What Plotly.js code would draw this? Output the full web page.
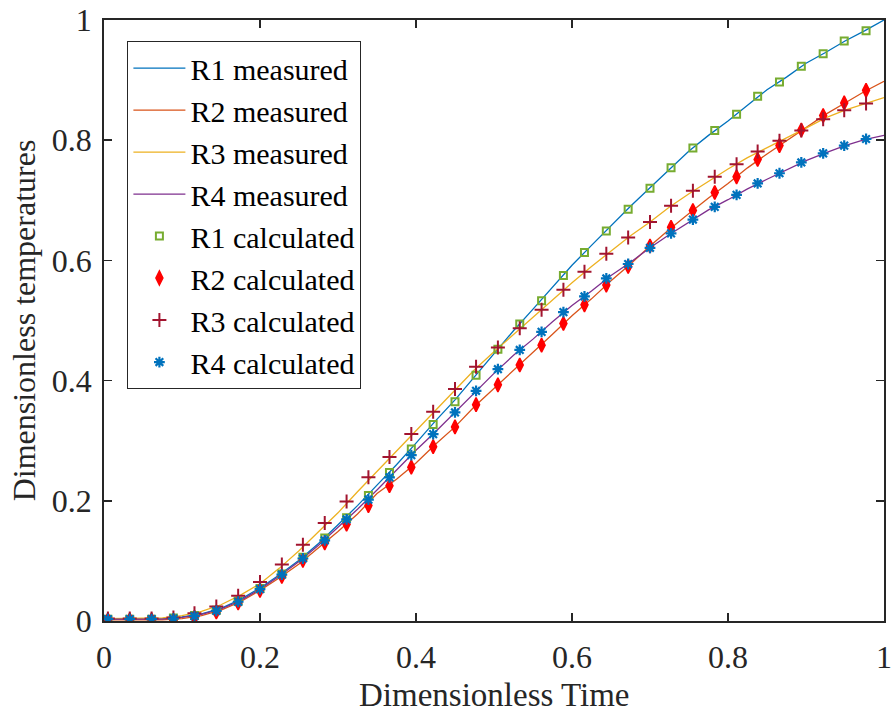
<!DOCTYPE html>
<html>
<head>
<meta charset="utf-8">
<script src="https://cdn.plot.ly/plotly-3.0.1.min.js"></script>
<style>html,body{margin:0;padding:0;background:#fff;}#chart{width:893px;height:718px;}</style>
</head>
<body>
<div id="chart"></div>
<script>
// measured series (dense sampling)
var timeMeasured = [0,0.025,0.05,0.075,0.1,0.125,0.15,0.175,0.2,0.225,0.25,0.275,0.3,0.325,0.35,0.375,0.4,0.425,0.45,0.475,0.5,0.525,0.55,0.575,0.6,0.625,0.65,0.675,0.7,0.725,0.75,0.775,0.8,0.825,0.85,0.875,0.9,0.925,0.95,0.975,1];
var r1Measured = [0.003,0.003,0.003,0.004,0.007,0.012,0.021,0.036,0.055,0.077,0.101,0.129,0.160,0.192,0.226,0.260,0.296,0.333,0.368,0.406,0.445,0.483,0.519,0.556,0.592,0.625,0.658,0.690,0.721,0.752,0.782,0.808,0.832,0.858,0.884,0.905,0.928,0.946,0.965,0.982,1.000];
var r2Measured = [0.002,0.002,0.002,0.002,0.004,0.009,0.018,0.032,0.051,0.072,0.095,0.122,0.149,0.178,0.212,0.236,0.263,0.294,0.323,0.357,0.387,0.416,0.446,0.477,0.508,0.536,0.566,0.594,0.624,0.652,0.678,0.704,0.728,0.754,0.777,0.799,0.822,0.843,0.862,0.881,0.898];
var r3Measured = [0.004,0.004,0.004,0.005,0.009,0.016,0.027,0.043,0.062,0.088,0.117,0.148,0.180,0.215,0.249,0.282,0.316,0.351,0.385,0.418,0.448,0.477,0.506,0.535,0.563,0.590,0.616,0.641,0.664,0.689,0.711,0.732,0.752,0.771,0.788,0.804,0.820,0.837,0.850,0.860,0.871];
var r4Measured = [0.003,0.003,0.003,0.003,0.006,0.011,0.020,0.034,0.053,0.075,0.099,0.126,0.156,0.186,0.218,0.251,0.284,0.315,0.347,0.380,0.412,0.442,0.469,0.498,0.525,0.549,0.575,0.597,0.621,0.643,0.664,0.684,0.701,0.719,0.735,0.751,0.766,0.779,0.791,0.801,0.808];

// calculated series
var timeCalc = [0.005,0.033,0.061,0.089,0.116,0.144,0.172,0.200,0.228,0.255,0.283,0.311,0.339,0.366,0.394,0.422,0.450,0.477,0.505,0.533,0.561,0.589,0.616,0.644,0.672,0.700,0.727,0.755,0.783,0.811,0.838,0.866,0.894,0.922,0.949,0.977];
var r1Calc = [0.003,0.003,0.003,0.005,0.009,0.018,0.033,0.054,0.078,0.106,0.138,0.172,0.209,0.247,0.286,0.327,0.365,0.409,0.452,0.494,0.533,0.575,0.613,0.649,0.685,0.720,0.754,0.787,0.816,0.843,0.873,0.897,0.923,0.944,0.965,0.982];
var r2Calc = [0.002,0.002,0.002,0.000,0.006,0.015,0.030,0.051,0.074,0.101,0.130,0.161,0.192,0.225,0.256,0.290,0.323,0.360,0.393,0.426,0.459,0.495,0.526,0.559,0.590,0.624,0.655,0.683,0.713,0.739,0.768,0.791,0.817,0.841,0.862,0.883];
var r3Calc = [0.004,0.004,0.004,0.006,0.013,0.024,0.042,0.065,0.094,0.127,0.163,0.199,0.239,0.273,0.311,0.348,0.386,0.423,0.455,0.487,0.518,0.551,0.581,0.611,0.638,0.664,0.691,0.716,0.739,0.760,0.781,0.799,0.816,0.835,0.850,0.861];
var r4Calc = [0.003,0.003,0.003,0.004,0.008,0.017,0.032,0.053,0.077,0.104,0.134,0.169,0.202,0.239,0.276,0.311,0.347,0.383,0.419,0.451,0.481,0.514,0.540,0.570,0.594,0.621,0.645,0.668,0.689,0.709,0.728,0.745,0.763,0.778,0.791,0.802];

var tickVals = [0,0.2,0.4,0.6,0.8,1];
var tickText = ['0','0.2','0.4','0.6','0.8','1'];
var xTitle = 'Dimensionless Time';
var yTitle = 'Dimensionless temperatures';

var font = "'Liberation Serif', 'Times New Roman', serif";
var axisColor = '#262626';

function lineTrace(name, y, color) {
  return {x: timeMeasured, y: y, name: name, type: 'scatter', mode: 'lines',
          line: {color: color, width: 1.3}};
}
function markTrace(name, y, symbol, size, color, fill, lw) {
  return {x: timeCalc, y: y, name: name, type: 'scatter', mode: 'markers',
          marker: {symbol: symbol, size: size, color: fill, line: {color: color, width: lw}}};
}

var data = [
  lineTrace('R1 measured', r1Measured, '#0072BD'),
  lineTrace('R2 measured', r2Measured, '#D95319'),
  lineTrace('R3 measured', r3Measured, '#EDB120'),
  lineTrace('R4 measured', r4Measured, '#7E2F8E'),
  markTrace('R1 calculated', r1Calc, 'square-open', 7, '#77AC30', '#77AC30', 2),
  markTrace('R2 calculated', r2Calc, 'diamond-tall', 10, '#FF0000', '#FF0000', 1.5),
  markTrace('R3 calculated', r3Calc, 'cross-thin-open', 10, '#A2142F', '#A2142F', 2),
  markTrace('R4 calculated', r4Calc, 'asterisk-open', 9, '#0072BD', '#0072BD', 2.2)
];

var axisCommon = {
  range: [0, 1], tickvals: tickVals, ticktext: tickText,
  showline: true, linecolor: axisColor, linewidth: 1.8, mirror: 'ticks',
  ticks: 'inside', ticklen: 8, tickwidth: 1.5, tickcolor: axisColor,
  showgrid: false, zeroline: false, fixedrange: true,
  ticklabeloverflow: 'allow'
};

var layout = {
  width: 893, height: 718,
  margin: {l: 104, r: 9, t: 20, b: 97},
  paper_bgcolor: '#ffffff', plot_bgcolor: '#ffffff',
  showlegend: true,
  xaxis: Object.assign({}, axisCommon, {
    tickfont: {family: font, size: 32, color: axisColor},
    ticklabelstandoff: 7
  }),
  yaxis: Object.assign({}, axisCommon, {
    tickfont: {family: font, size: 32, color: axisColor},
    ticklabelstandoff: 4,
    title: {text: yTitle, font: {family: font, size: 32, color: axisColor}, standoff: 6}
  }),
  annotations: [{
    text: xTitle, xref: 'paper', yref: 'paper', x: 0.5, y: -0.123,
    xanchor: 'center', yanchor: 'middle', showarrow: false,
    font: {family: font, size: 33, color: axisColor}
  }],
  legend: {
    x: 0.03, y: 0.965, xanchor: 'left', yanchor: 'top',
    bgcolor: '#ffffff', bordercolor: axisColor, borderwidth: 1,
    font: {family: font, size: 30, color: '#000000'},
    itemwidth: 52, tracegroupgap: 0
  }
};

Plotly.newPlot('chart', data, layout, {displayModeBar: false, staticPlot: true});
</script>
</body>
</html>
